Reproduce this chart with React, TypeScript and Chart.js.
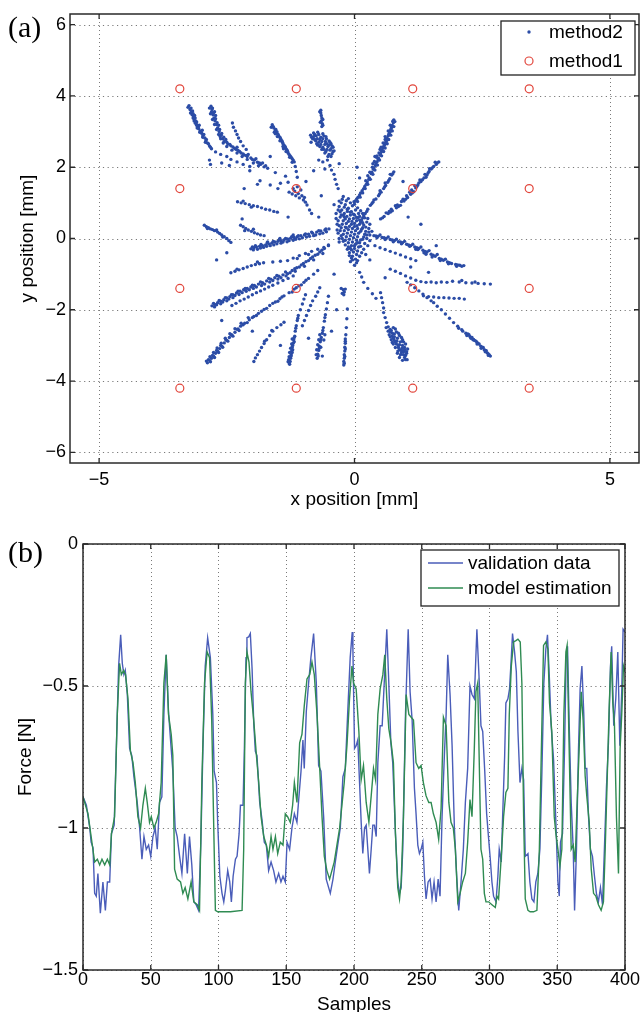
import React, { useEffect, useRef } from "react";
import { Chart, registerables } from "chart.js";

Chart.register(...registerables);

const FONT = "'Liberation Sans', Arial, Helvetica, sans-serif";
const SERIF = "'Liberation Serif', 'Times New Roman', serif";

// ---------------- chart (a) data ----------------
const xTicksA = [-5, 0, 5];
const yTicksA = [-6, -4, -2, 0, 2, 4, 6];

const method1Points = [
  [-3.42, 4.2], [-1.14, 4.2], [1.14, 4.2], [3.42, 4.2],
  [-3.42, 1.4], [-1.14, 1.4], [1.14, 1.4], [3.42, 1.4],
  [-3.42, -1.4], [-1.14, -1.4], [1.14, -1.4], [3.42, -1.4],
  [-3.42, -4.2], [-1.14, -4.2], [1.14, -4.2], [3.42, -4.2],
];

const raysUpperLeft = [
  [-3.24,3.73],[-3.22,3.62],[-3.19,3.55],[-3.18,3.47],[-3.15,3.42],[-3.14,3.35],[-3.11,3.30],[-3.10,3.22],[-3.07,3.15],[-3.05,3.08],[-3.02,3.02],[-2.99,2.95],[-2.97,2.88],[-2.93,2.82],[-2.91,2.74],[-2.88,2.68],[-2.84,2.60],[-2.80,2.52],[-2.72,2.43],[-2.62,2.36],[-2.50,2.30],[-2.42,2.22],[-2.30,2.15],[-2.18,2.08],[-2.05,2.02],[-2.84,2.20],[-2.82,2.08],[-2.60,2.12],[-3.16,3.50],[-3.12,3.38],[-3.06,3.12],[-3.00,2.99],
  [-2.81,3.71],[-2.79,3.62],[-2.80,3.55],[-2.77,3.47],[-2.75,3.38],[-2.73,3.30],[-2.70,3.20],[-2.68,3.10],[-2.65,3.00],[-2.61,2.90],[-2.58,2.80],[-2.55,2.72],[-2.48,2.65],[-2.42,2.60],[-2.35,2.53],[-2.28,2.47],[-2.22,2.40],[-2.16,2.34],[-2.10,2.30],[-2.03,2.26],[-1.96,2.20],[-1.90,2.14],[-1.84,2.08],[-1.77,2.01],[-1.70,1.97],[-2.72,3.45],[-2.66,3.18],[-2.52,2.78],[-2.30,2.56],[-2.08,2.36],[-1.93,2.24],[-1.80,2.12],
  [-2.39,3.24],[-2.37,3.12],[-2.33,3.02],[-2.30,2.92],[-2.27,2.82],[-2.23,2.72],[-2.18,2.60],[-2.12,2.50],
  [-1.61,3.19],[-1.58,3.10],[-1.55,3.03],[-1.52,2.96],[-1.49,2.90],[-1.46,2.84],[-1.44,2.78],[-1.41,2.70],[-1.38,2.62],[-1.35,2.55],[-1.32,2.47],[-1.30,2.40],[-1.26,2.32],[-1.22,2.24],[-1.18,2.15],[-1.16,2.02],[-1.14,1.88],[-1.12,1.72],[-1.52,3.00],[-1.42,2.74],[-1.33,2.50],[-1.24,2.28],
  [-1.28,1.30],[-1.22,1.25],[-1.17,1.33],[-1.15,1.20],[-1.10,1.26],[-1.08,1.14],[-1.03,1.20],[-1.00,1.08],[-0.96,1.02],[-0.93,0.94],[-1.20,1.40],[-1.12,1.45],[-1.05,1.36],[-0.98,1.15],[-0.88,0.80],[-0.84,0.70],
  [-1.90,1.52],[-1.65,1.50],[-1.45,1.55],[-1.30,1.58],[-2.05,1.90],[-1.55,1.85],[-1.35,1.75],[-2.16,1.40],
  [-0.66,3.60],[-0.66,3.52],[-0.65,3.45],[-0.64,3.38],[-0.65,3.30],[-0.63,3.22],[-0.64,3.14],
  [-0.86,2.90],[-0.80,2.96],[-0.75,2.88],[-0.70,2.92],[-0.66,2.84],[-0.60,2.88],[-0.55,2.80],[-0.50,2.74],[-0.46,2.66],[-0.42,2.56],[-0.40,2.46],[-0.82,2.80],[-0.76,2.74],[-0.70,2.70],[-0.64,2.72],[-0.58,2.64],[-0.52,2.58],[-0.48,2.48],[-0.44,2.38],[-0.72,2.62],[-0.62,2.56],[-0.56,2.44],[-0.50,2.36],[-0.85,2.70],
  [-0.53,2.20],[-0.48,2.05],[-0.45,1.92],[-0.40,1.80],[-0.38,1.66],[-0.35,1.52],[-0.32,1.40],[-0.62,2.15],[-0.58,1.95],
  [-2.29,1.03],[-2.22,1.00],[-2.14,0.98],[-2.06,0.95],[-1.98,0.92],[-1.90,0.90],[-1.82,0.86],[-1.74,0.82],[-1.66,0.80],[-1.58,0.76],[-1.51,0.74],[-2.18,1.05],[-2.02,0.88],
];

const raysLeft = [
  [-2.94,0.37],[-2.90,0.33],[-2.86,0.30],[-2.82,0.27],[-2.78,0.25],[-2.74,0.22],[-2.68,0.18],[-2.64,0.14],[-2.60,0.10],[-2.55,0.05],[-2.50,0.00],[-2.46,-0.06],[-2.42,-0.11],[-2.88,0.28],[-2.70,0.24],[-2.58,0.04],
  [-2.23,0.37],[-2.18,0.33],[-2.13,0.28],[-2.08,0.24],[-2.02,0.20],[-1.96,0.16],[-1.90,0.13],[-1.84,0.10],[-1.77,0.08],[-2.15,0.22],[-1.98,0.26],
  [-2.03,-0.29],[-1.97,-0.26],[-1.92,-0.24],[-1.86,-0.22],[-1.80,-0.20],[-1.74,-0.18],[-1.68,-0.15],[-1.62,-0.13],[-1.56,-0.10],[-1.50,-0.08],[-1.44,-0.06],[-1.38,-0.04],[-1.31,-0.01],[-1.25,0.01],[-1.18,0.03],[-1.12,0.05],[-1.05,0.08],[-0.98,0.10],[-0.90,0.12],[-0.82,0.15],[-0.74,0.18],[-0.66,0.21],[-0.58,0.24],[-0.50,0.27],[-1.90,-0.30],[-1.78,-0.25],[-1.65,-0.20],[-1.52,-0.15],[-1.40,-0.10],[-1.28,-0.06],[-1.15,-0.02],[-1.02,0.02],[-0.88,0.06],[-0.76,0.10],[-0.62,0.15],[-1.70,-0.10],[-1.46,0.00],[-1.20,0.10],
  [-2.42,-0.96],[-2.34,-0.92],[-2.26,-0.88],[-2.18,-0.84],[-2.10,-0.80],[-2.02,-0.76],[-1.94,-0.73],[-1.86,-0.71],[-1.78,-0.68],[-1.60,-0.66],[-1.45,-0.64],[-1.31,-0.62],[-1.20,-0.55],[-1.08,-0.48],[-0.96,-0.42],[-0.84,-0.36],[-0.72,-0.30],[-0.60,-0.25],[-0.51,-0.20],[-2.30,-0.86],[-1.90,-0.66],[-1.12,-0.56],[-0.90,-0.45],
];

const raysLowerLeft = [
  [-2.79,-1.89],[-2.74,-1.85],[-2.68,-1.80],[-2.62,-1.76],[-2.56,-1.72],[-2.50,-1.67],[-2.44,-1.63],[-2.38,-1.58],[-2.31,-1.53],[-2.24,-1.48],[-2.17,-1.44],[-2.10,-1.40],[-2.03,-1.36],[-1.96,-1.32],[-1.88,-1.28],[-1.80,-1.24],[-1.72,-1.19],[-1.64,-1.14],[-1.56,-1.10],[-1.48,-1.06],[-1.40,-1.02],[-1.31,-0.99],[-1.22,-0.90],[-1.13,-0.82],[-1.04,-0.74],[-0.95,-0.65],[-0.86,-0.56],[-0.77,-0.47],[-0.68,-0.38],[-0.59,-0.28],[-0.51,-0.18],[-2.70,-1.86],[-2.58,-1.78],[-2.46,-1.70],[-2.34,-1.60],[-2.20,-1.52],[-2.06,-1.44],[-1.92,-1.36],[-1.76,-1.28],[-1.60,-1.18],[-1.44,-1.10],[-1.26,-0.96],[-1.08,-0.80],[-0.90,-0.62],[-0.72,-0.44],
  [-2.40,-1.88],[-2.32,-1.82],[-2.24,-1.75],[-2.16,-1.70],[-2.08,-1.64],[-2.00,-1.58],[-1.92,-1.52],[-1.84,-1.47],[-1.76,-1.42],[-1.68,-1.36],[-1.60,-1.31],[-1.50,-1.25],[-1.40,-1.18],[-1.30,-1.12],[-1.20,-1.05],
  [-2.88,-3.49],[-2.84,-3.42],[-2.80,-3.36],[-2.76,-3.30],[-2.72,-3.22],[-2.68,-3.16],[-2.64,-3.09],[-2.60,-3.02],[-2.55,-2.93],[-2.50,-2.86],[-2.45,-2.78],[-2.40,-2.71],[-2.34,-2.63],[-2.28,-2.54],[-2.23,-2.46],[-2.15,-2.38],[-2.06,-2.28],[-1.97,-2.19],[-1.88,-2.10],[-1.77,-1.99],[-1.66,-1.88],[-1.55,-1.78],[-1.46,-1.69],[-1.38,-1.61],[-1.28,-1.52],[-1.18,-1.42],[-1.09,-1.33],[-0.99,-1.23],[-0.90,-1.12],[-0.80,-1.00],[-0.72,-0.90],[-2.82,-3.46],[-2.74,-3.34],[-2.66,-3.20],[-2.58,-3.05],[-2.48,-2.88],[-2.38,-2.74],[-2.26,-2.58],[-2.10,-2.36],[-1.92,-2.16],[-1.72,-1.96],[-1.50,-1.76],[-1.22,-1.50],[-1.04,-1.30],
  [-1.97,-3.45],[-1.94,-3.35],[-1.90,-3.26],[-1.86,-3.16],[-1.82,-3.06],[-1.77,-2.95],[-1.72,-2.84],[-1.66,-2.72],[-1.60,-2.60],[-1.52,-2.50],[-1.44,-2.42],[-1.38,-2.35],[-1.76,-2.88],[-1.62,-2.58],
  [-1.27,-3.53],[-1.26,-3.45],[-1.25,-3.36],[-1.24,-3.26],[-1.23,-3.16],[-1.22,-3.05],[-1.20,-2.94],[-1.19,-2.84],[-1.17,-2.74],[-1.16,-2.60],[-1.14,-2.45],[-1.12,-2.30],[-1.10,-2.16],[-1.06,-2.00],[-1.02,-1.84],[-0.99,-1.70],[-0.96,-1.58],[-1.29,-3.40],[-1.21,-3.12],[-1.18,-2.90],
  [-1.02,-2.45],[-0.98,-2.30],[-0.94,-2.16],[-0.90,-2.02],[-0.86,-1.88],[-0.82,-1.75],[-0.76,-1.62],[-0.72,-1.50],[-0.68,-1.38],
  [-0.73,-3.36],[-0.72,-3.25],[-0.70,-3.14],[-0.69,-3.02],[-0.67,-2.90],[-0.65,-2.78],[-0.63,-2.66],[-0.61,-2.50],[-0.59,-2.32],[-0.57,-2.14],[-0.55,-1.98],[-0.53,-1.80],[-0.51,-1.62],[-0.63,-3.30],[-0.66,-3.05],[-0.60,-2.85],[-0.58,-2.70],
  [-0.21,-3.55],[-0.21,-3.45],[-0.20,-3.36],[-0.20,-3.26],[-0.19,-3.16],[-0.19,-3.05],[-0.18,-2.94],[-0.18,-2.82],[-0.17,-2.70],[-0.16,-2.50],[-0.15,-2.25],[-0.14,-1.98],
  [-0.26,-1.40],[-0.22,-1.44],[-0.20,-1.50],[-0.24,-1.54],[-0.18,-1.42],[-0.21,-1.58],
];

const raysUpperRight = [
  [0.77,3.33],[0.76,3.25],[0.74,3.17],[0.72,3.10],[0.70,3.02],[0.68,2.95],[0.66,2.88],[0.64,2.81],[0.62,2.72],[0.59,2.63],[0.56,2.54],[0.53,2.44],[0.50,2.34],[0.47,2.25],[0.44,2.15],[0.41,2.05],[0.37,1.94],[0.33,1.82],[0.29,1.70],[0.25,1.59],[0.20,1.46],[0.15,1.34],[0.10,1.22],[0.05,1.12],[-0.01,1.03],[0.70,3.18],[0.66,3.02],[0.60,2.86],[0.56,2.68],[0.52,2.56],[0.48,2.40],[0.43,2.28],[0.39,2.16],[0.35,2.00],[0.30,1.86],[0.26,1.76],[0.22,1.62],[0.40,2.30],[0.36,2.10],
  [1.65,2.15],[1.60,2.08],[1.55,2.02],[1.50,1.95],[1.46,1.88],[1.42,1.78],[1.36,1.70],[1.30,1.60],[1.24,1.50],[1.20,1.42],[1.16,1.31],[1.10,1.24],[1.04,1.15],[0.97,1.05],[0.90,0.93],[0.82,0.86],[0.74,0.78],[0.66,0.70],[0.58,0.62],[0.51,0.55],[1.40,1.72],[1.26,1.56],[1.08,1.30],[0.95,1.10],[0.80,0.92],[0.68,0.76],
  [0.77,1.87],[0.73,1.78],[0.69,1.68],[0.65,1.58],[0.61,1.49],[0.57,1.40],[0.52,1.30],[0.47,1.20],[0.42,1.11],[0.36,1.02],[0.31,0.93],[0.26,0.82],[0.21,0.70],[0.16,0.58],[0.12,0.46],[0.70,1.80],[0.60,1.56],[0.50,1.34],[0.38,1.08],
];

const raysLowerRight = [
  [0.38,0.08],[0.46,0.06],[0.54,0.03],[0.62,0.00],[0.70,-0.03],[0.78,-0.06],[0.86,-0.09],[0.94,-0.12],[1.02,-0.16],[1.10,-0.20],[1.18,-0.24],[1.26,-0.28],[1.34,-0.33],[1.42,-0.38],[1.50,-0.44],[1.58,-0.50],[1.66,-0.56],[1.74,-0.61],[1.82,-0.66],[1.90,-0.70],[1.98,-0.73],[2.06,-0.75],[2.14,-0.76],[0.50,0.10],[0.66,0.04],[0.82,-0.02],[0.98,-0.08],[1.14,-0.16],[1.30,-0.24],[1.46,-0.34],[1.62,-0.45],[1.78,-0.58],[1.20,-0.30],[1.40,-0.44],
  [0.40,-0.20],[0.50,-0.26],[0.60,-0.31],[0.70,-0.36],[0.80,-0.41],[0.90,-0.46],[1.00,-0.52],[1.10,-0.57],[1.20,-0.62],
  [0.70,-0.86],[0.80,-0.92],[0.90,-0.98],[1.00,-1.05],[1.10,-1.11],[1.20,-1.17],[1.30,-1.21],[1.40,-1.23],[1.50,-1.22],[1.60,-1.24],[1.70,-1.22],[1.81,-1.23],[1.92,-1.20],[2.05,-1.22],[2.18,-1.24],[2.30,-1.25],[2.42,-1.26],[2.54,-1.27],[2.66,-1.28],[2.10,-1.18],[2.36,-1.22],
  [1.35,-1.61],[1.45,-1.63],[1.55,-1.64],[1.65,-1.66],[1.75,-1.66],[1.85,-1.67],[1.95,-1.68],[2.05,-1.68],[2.15,-1.70],
  [1.03,-1.23],[1.10,-1.30],[1.18,-1.38],[1.26,-1.47],[1.34,-1.56],[1.42,-1.66],[1.50,-1.75],[1.55,-1.80],[1.62,-1.90],[1.70,-2.00],[1.78,-2.12],[1.86,-2.24],[1.94,-2.36],[2.02,-2.46],[2.10,-2.56],[2.18,-2.66],[2.26,-2.75],[2.33,-2.83],[2.40,-2.92],[2.47,-3.02],[2.54,-3.12],[2.60,-3.21],[2.66,-3.30],[2.22,-2.68],[2.30,-2.78],[2.38,-2.88],[2.44,-2.96],[2.52,-3.06],[2.58,-3.15],
  [0.51,-1.52],[0.53,-1.66],[0.55,-1.80],[0.57,-1.95],[0.57,-2.08],[0.60,-2.22],[0.63,-2.36],[0.66,-2.48],[0.70,-2.55],[0.74,-2.66],[0.78,-2.76],[0.83,-2.88],[0.88,-2.98],[0.93,-3.08],[0.96,-3.18],[1.00,-3.28],[1.03,-3.40],[0.68,-2.70],[0.72,-2.84],[0.76,-2.96],[0.80,-3.06],[0.85,-3.16],[0.90,-3.26],[0.82,-2.62],[0.88,-2.72],[0.94,-2.84],[1.00,-2.96],[1.04,-3.10],[0.76,-2.50],[0.62,-2.50],[0.66,-2.60],
  [0.18,-1.23],[0.26,-1.40],[0.35,-1.55],[0.42,-1.68],[0.10,-0.95],[0.14,-1.08],
];

const centerCluster = [
  [-0.30,0.90],[-0.25,0.80],[-0.20,0.70],[-0.15,0.62],[-0.10,0.55],[-0.05,0.48],[0.00,0.42],[0.05,0.36],[-0.28,0.60],[-0.22,0.50],[-0.16,0.42],[-0.10,0.34],[-0.04,0.28],[0.02,0.22],[0.08,0.15],[-0.26,0.30],[-0.20,0.22],[-0.14,0.15],[-0.08,0.08],[-0.02,0.02],[0.04,-0.05],[0.10,-0.12],[-0.18,-0.05],[-0.12,-0.12],[-0.06,-0.20],[0.00,-0.28],[0.06,-0.35],[-0.10,-0.40],[-0.04,-0.50],[0.02,-0.58],[-0.08,-0.65],[0.00,-0.75],[-0.32,0.15],[-0.34,0.40],[-0.30,1.05],[-0.24,1.10],[-0.18,0.95],[-0.12,0.85],[-0.06,0.75],[0.00,0.66],[0.06,0.58],[0.12,0.50],[0.18,0.38],[0.14,0.26],[0.20,0.12],[0.24,0.00],[0.16,-0.02],[0.12,-0.22],[0.18,-0.30],[0.22,-0.45],[0.10,-0.50],[0.06,-0.62],[-0.16,0.30],[-0.24,0.00],[-0.30,-0.10],[-0.04,0.92],[0.02,0.80],[0.08,0.70],[-0.36,0.70],[-0.40,0.95],[0.28,0.28],[0.30,0.10],[-0.14,-0.30],[0.26,-0.20],
  [-0.32,0.50],[-0.30,0.36],[-0.28,0.22],[-0.26,0.08],[-0.22,-0.08],[-0.18,-0.18],[-0.12,-0.24],[-0.06,-0.32],[0.00,-0.20],[0.06,-0.12],[0.12,-0.04],[0.18,0.04],[0.24,0.10],[0.28,0.18],[0.22,0.32],[0.16,0.44],[0.10,0.52],[0.04,0.60],[-0.02,0.68],[-0.08,0.74],[-0.14,0.82],[-0.20,0.60],[-0.26,0.66],[-0.32,0.80],[-0.36,0.56],[-0.34,0.24],[-0.30,0.00],[-0.04,-0.60],[0.04,-0.68],[-0.10,-0.48],[0.14,-0.40],[0.20,-0.14],[0.30,-0.06],[0.34,0.20],[0.30,0.40],[0.26,0.56],[0.18,0.64],[0.12,0.78],[0.06,0.86],[0.00,0.96],[-0.08,1.00],[-0.16,1.06],[-0.22,1.18],[-0.12,1.12],
];

const strayPoints = [
  [-1.85,1.62],[-1.50,1.40],[-0.95,1.60],[-0.80,1.90],[-0.70,2.20],[-0.30,2.10],[0.05,2.00],[0.10,1.70],[0.95,1.60],[1.05,0.60],[1.30,0.40],[1.60,-0.20],[1.10,-0.80],[1.45,-0.95],[0.60,-1.10],[0.30,-0.60],[-0.40,-1.00],[-0.35,-2.00],[-0.45,-2.60],[-0.90,-2.80],[-1.45,-3.00],[-2.00,-2.60],[-2.60,-2.30],[-2.70,-0.60],[-2.50,-0.40],[-2.20,0.55],[-1.30,0.60],[-0.70,0.60],[-0.65,1.20],[-1.65,2.30],[-2.45,2.05],
];

const denseFill = [
  [-3.20,3.66],[-3.17,3.58],[-3.13,3.45],[-3.09,3.27],[-3.04,3.18],[-2.98,3.04],[-2.95,2.92],[-2.90,2.78],[-2.86,2.66],[-2.82,2.56],
  [-3.26,3.68],[-3.21,3.52],[-3.16,3.38],[-3.12,3.24],[-3.08,3.10],[-3.03,2.98],[-2.97,2.84],[-2.92,2.70],[-3.14,3.30],[-3.09,3.18],
  [-2.78,3.66],[-2.76,3.52],[-2.72,3.36],[-2.69,3.25],[-2.64,3.06],[-2.60,2.95],[-2.56,2.84],[-2.50,2.70],[-2.44,2.64],[-2.38,2.57],[-2.32,2.50],[-2.25,2.44],[-2.18,2.37],[-2.12,2.33],[-2.00,2.22],[-1.86,2.12],[-1.74,2.04],
  [-2.84,3.66],[-2.82,3.50],[-2.78,3.34],[-2.74,3.20],[-2.70,3.06],[-2.66,2.92],[-2.62,2.80],[-2.57,2.68],[-2.50,2.58],[-2.40,2.48],[-2.30,2.40],[-2.20,2.30],[-2.10,2.22],[-1.98,2.12],[-1.88,2.04],[-2.74,3.56],[-2.63,2.86],
  [-1.59,3.14],[-1.54,3.06],[-1.50,2.93],[-1.45,2.80],[-1.40,2.66],[-1.36,2.58],[-1.31,2.44],[-1.28,2.36],[-1.20,2.20],
  [-1.63,3.12],[-1.57,2.98],[-1.51,2.86],[-1.46,2.74],[-1.40,2.58],[-1.34,2.44],[-1.27,2.28],[-1.22,2.14],[-1.55,2.94],[-1.39,2.52],
  [-0.78,2.92],[-0.73,2.80],[-0.68,2.78],[-0.62,2.80],[-0.57,2.72],[-0.54,2.66],[-0.50,2.62],[-0.46,2.52],[-0.80,2.86],[-0.66,2.64],[-0.60,2.50],[-0.54,2.50],
  [-0.68,3.56],[-0.62,3.34],[-0.67,3.26],[-0.62,3.18],[-0.84,2.84],[-0.78,2.78],[-0.74,2.66],[-0.68,2.58],[-0.64,2.50],[-0.58,2.40],[-0.52,2.30],[-0.46,2.30],[-0.42,2.44],[-0.44,2.60],[-0.48,2.70],[-0.56,2.86],[-0.62,2.94],[-0.72,2.98],
  [-2.00,-0.24],[-1.94,-0.20],[-1.83,-0.17],[-1.71,-0.12],[-1.59,-0.08],[-1.47,-0.03],[-1.35,0.00],[-1.23,0.05],[-1.10,0.08],[-0.96,0.13],[-0.84,0.18],[-0.70,0.22],[-0.56,0.27],
  [-1.98,-0.32],[-1.84,-0.27],[-1.72,-0.22],[-1.58,-0.18],[-1.44,-0.13],[-1.32,-0.09],[-1.20,-0.05],[-1.08,-0.01],[-0.94,0.04],[-0.80,0.08],[-0.68,0.13],[-0.55,0.19],
  [-2.76,-1.82],[-2.65,-1.74],[-2.53,-1.66],[-2.41,-1.58],[-2.28,-1.48],[-2.14,-1.40],[-2.00,-1.31],[-1.84,-1.22],[-1.68,-1.12],[-1.52,-1.04],[-1.35,-0.94],[-1.17,-0.85],[-1.00,-0.70],[-0.82,-0.52],[-0.64,-0.33],
  [-2.74,-1.92],[-2.62,-1.83],[-2.50,-1.75],[-2.38,-1.66],[-2.26,-1.57],[-2.12,-1.48],[-1.98,-1.40],[-1.82,-1.32],[-1.66,-1.22],[-1.50,-1.14],[-1.34,-1.05],[-1.16,-0.92],[-0.98,-0.78],[-0.80,-0.60],[-0.62,-0.42],
  [-2.86,-3.40],[-2.78,-3.28],[-2.70,-3.14],[-2.62,-3.00],[-2.52,-2.84],[-2.42,-2.70],[-2.30,-2.55],[-2.18,-2.42],[-2.00,-2.22],[-1.82,-2.04],[-1.60,-1.82],[-1.42,-1.64],[-1.14,-1.38],[-0.95,-1.17],
  [-2.90,-3.44],[-2.83,-3.32],[-2.76,-3.20],[-2.69,-3.07],[-2.61,-2.94],[-2.53,-2.80],[-2.44,-2.67],[-2.34,-2.53],[-2.22,-2.38],[-2.08,-2.22],
  [-1.28,-3.48],[-1.24,-3.30],[-1.22,-3.20],[-1.21,-3.00],[-1.18,-2.78],[-1.15,-2.52],[-1.11,-2.24],
  [-1.30,-3.46],[-1.28,-3.32],[-1.27,-3.20],[-1.25,-3.08],[-1.23,-2.96],[-1.22,-2.82],
  [-0.71,-3.30],[-0.69,-3.08],[-0.66,-2.84],[-0.62,-2.58],[-0.58,-2.22],
  [-0.75,-3.26],[-0.74,-3.12],[-0.72,-2.98],[-0.70,-2.84],[-0.68,-2.70],
  [-0.20,-3.50],[-0.19,-3.31],[-0.18,-3.10],[-0.18,-2.88],
  [0.75,3.29],[0.73,3.13],[0.71,3.06],[0.69,2.98],[0.67,2.91],[0.63,2.76],[0.60,2.68],[0.57,2.58],[0.54,2.48],[0.51,2.38],[0.46,2.20],[0.42,2.10],[0.38,1.98],[0.34,1.86],[0.28,1.66],[0.23,1.52],[0.18,1.40],[0.12,1.28],[0.07,1.16],[0.02,1.06],
  [0.79,3.28],[0.77,3.14],[0.74,3.02],[0.71,2.90],[0.67,2.78],[0.64,2.66],[0.60,2.54],[0.57,2.44],[0.53,2.32],[0.49,2.20],[0.45,2.06],[0.40,1.92],[0.36,1.80],[0.31,1.66],[0.26,1.52],[0.21,1.40],[0.16,1.28],[0.11,1.16],[0.06,1.04],[0.60,2.78],[0.50,2.50],[0.44,2.32],
  [1.62,2.12],[1.52,1.98],[1.44,1.84],[1.33,1.65],[1.22,1.46],[1.13,1.28],[1.00,1.10],[0.86,0.90],[0.70,0.74],[0.55,0.58],
  [1.58,2.14],[1.47,1.96],[1.38,1.80],[1.28,1.64],[1.18,1.48],[1.12,1.36],[1.02,1.20],[0.92,1.04],[0.84,0.94],[0.72,0.82],[0.62,0.72],
  [0.75,1.82],[0.67,1.63],[0.59,1.45],[0.49,1.25],[0.34,0.98],[0.24,0.76],[0.14,0.52],
  [0.42,0.07],[0.58,0.02],[0.74,-0.04],[0.90,-0.10],[1.06,-0.18],[1.22,-0.26],[1.38,-0.36],[1.54,-0.47],[1.70,-0.58],[1.86,-0.68],[2.02,-0.74],[2.10,-0.78],
  [0.44,0.02],[0.60,-0.03],[0.76,-0.09],[0.92,-0.15],[1.08,-0.22],[1.24,-0.31],[1.36,-0.40],[1.52,-0.52],[1.68,-0.62],[1.84,-0.71],[2.00,-0.78],
  [2.20,-2.72],[2.28,-2.80],[2.35,-2.86],[2.42,-2.95],[2.49,-3.04],[2.56,-3.14],[2.62,-3.24],[2.64,-3.27],
  [2.24,-2.70],[2.32,-2.84],[2.40,-2.96],[2.48,-3.08],[2.56,-3.18],[2.62,-3.28],[2.12,-2.60],[2.04,-2.52],
  [0.70,-2.62],[0.74,-2.74],[0.78,-2.86],[0.82,-2.96],[0.86,-3.06],[0.88,-3.12],[0.92,-3.20],[0.98,-3.34],[0.96,-2.90],[0.92,-2.78],[0.86,-2.66],[0.80,-2.54],[0.98,-3.06],[1.02,-3.18],
  [0.72,-2.58],[0.78,-2.68],[0.84,-2.80],[0.90,-2.90],[0.94,-3.00],[0.98,-3.12],[1.02,-3.22],[0.96,-3.26],[0.92,-3.14],[0.86,-3.00],[0.80,-2.90],[0.76,-2.80],[0.70,-2.76],[0.74,-2.92],[0.84,-3.22],[0.88,-3.34],[0.94,-3.42],[1.00,-3.40],
  [-0.28,0.75],[-0.22,0.65],[-0.18,0.55],[-0.12,0.48],[-0.06,0.40],[0.00,0.34],[0.06,0.28],[0.12,0.20],[-0.24,0.40],[-0.18,0.32],[-0.12,0.25],[-0.06,0.18],[0.00,0.12],[0.06,0.05],[-0.22,0.12],[-0.16,0.05],[-0.10,-0.02],[-0.04,-0.10],[0.02,-0.16],[0.08,-0.24],[-0.08,-0.28],[-0.02,-0.38],[0.04,-0.45],[-0.06,-0.55],[0.10,0.40],[0.16,0.30],[0.22,0.20],[-0.26,1.00],[-0.20,0.88],[-0.14,0.76],[-0.08,0.66],[-0.02,0.56],[0.04,0.50],[0.10,0.62],[0.16,0.70],[0.20,0.58],[0.24,0.46],
];

const method2Points = [
  ...raysUpperLeft, ...raysLeft, ...raysLowerLeft,
  ...raysUpperRight, ...raysLowerRight, ...centerCluster, ...strayPoints, ...denseFill,
];

// ---------------- chart (b) data ----------------
const xTicksB = [0, 50, 100, 150, 200, 250, 300, 350, 400];
const yTicksB = [-1.5, -1, -0.5, 0];

const validationData = [
  [0,-0.89],[2.5,-0.92],[5,-1.0],[6,-1.05],[7.4,-1.07],[8.6,-1.23],[9.8,-1.24],[11,-1.16],[12.8,-1.3],[14.7,-1.19],[16.5,-1.29],[18,-1.19],[19.7,-1.19],[21,-1.02],[23,-0.99],[24.6,-0.72],[26.3,-0.43],[27.8,-0.32],[29,-0.42],[30.2,-0.46],[31.2,-0.445],[32.7,-0.53],[34.4,-0.72],[36,-0.745],[37.6,-0.82],[40,-0.91],[41.8,-1.0],[43.5,-1.11],[45,-1.03],[46.7,-1.075],[48.4,-1.06],[50,-1.1],[51.6,-1.03],[53.3,-1.0],[54.8,-1.075],[56.5,-0.91],[58.2,-0.89],[59.7,-0.6],[61.4,-0.39],[63.1,-0.59],[64.6,-0.69],[66.3,-0.8],[68,-1.0],[69.5,-1.03],[71.3,-1.1],[73,-1.16],[75,-1.02],[77,-1.16],[78.6,-1.03],[80.3,-1.13],[81.8,-1.26],[83.5,-1.27],[85.3,-1.29],[87,-1.05],[88.5,-0.72],[90.2,-0.43],[92,-0.33],[94,-0.4],[95.8,-0.6],[96.8,-0.8],[98.5,-0.84],[99.4,-0.98],
  [101,-1.17],[102.6,-1.23],[103.9,-1.26],[105.1,-1.22],[106.8,-1.15],[108.3,-1.19],[109.5,-1.26],[110.8,-1.17],[112.5,-1.11],[113.7,-1.1],[115.2,-1.02],[116.2,-0.92],[118.1,-0.92],[119.1,-0.72],[120.3,-0.4],[121,-0.33],[122.3,-0.327],[123.5,-0.315],[124.8,-0.44],[126,-0.63],[127.2,-0.73],[128.4,-0.745],[130.4,-0.91],[132.1,-0.97],[133.8,-1.05],[135.3,-1.06],[137,-1.15],[138.8,-1.12],[140.7,-1.15],[142.4,-1.19],[144.4,-1.16],[146.1,-1.19],[147.6,-1.17],[149.3,-1.19],[150.6,-1.05],[152.5,-1.075],[154.2,-1.0],[156,-0.95],[157.9,-0.98],[159.2,-0.9],[160.9,-0.8],[162.3,-0.69],[163.3,-0.79],[164.8,-0.59],[166.5,-0.49],[168.2,-0.4],[170.2,-0.315],[172.2,-0.49],[173.9,-0.78],[175.6,-0.8],[177.6,-0.96],[179.5,-1.18],[181.3,-1.21],[182.5,-1.23],[184.5,-1.18],[186.2,-1.12],[188,-1.06],[189.9,-1.0],[191.8,-0.82],[193.6,-0.79],[195.3,-0.6],[197.2,-0.4],[198.7,-0.31],[199.2,-0.37],
  [200.4,-0.72],[201.6,-0.71],[202.8,-0.69],[204.1,-0.84],[205.3,-0.98],[206.5,-1.09],[207.8,-1.0],[209,-0.99],[210.2,-1.075],[211.4,-1.16],[212.7,-1.075],[213.9,-0.99],[215.1,-0.99],[216.4,-1.03],[217.6,-0.77],[219.3,-0.64],[220.8,-0.64],[222.3,-0.49],[224.2,-0.3],[225.7,-0.49],[227.2,-0.7],[228.6,-0.77],[230.6,-1.02],[232.3,-1.19],[233.6,-1.23],[234.8,-1.21],[236,-1.075],[238,-0.6],[240,-0.3],[241.4,-0.52],[242.9,-0.62],[244.6,-0.86],[245.8,-0.95],[247.1,-1.06],[248.3,-1.09],[249.5,-1.075],[250.8,-1.05],[252,-1.17],[253.2,-1.25],[254.7,-1.19],[256.2,-1.18],[257.6,-1.25],[259.1,-1.19],[260.6,-1.26],[262.1,-1.18],[263.5,-1.24],[265,-0.96],[266.7,-0.745],[268,-0.6],[269.2,-0.39],[270.9,-0.53],[272.4,-0.71],[274.1,-1.0],[275.8,-1.17],[277.3,-1.29],[279,-1.19],[280.7,-1.075],[282.2,-0.91],[283.9,-0.79],[285.6,-0.5],[287.1,-0.53],[288.8,-0.545],[290.7,-0.3],[292.5,-0.49],[293.7,-0.64],[295,-0.66],[296.5,-0.8],[297.9,-0.95],[299.4,-1.04],
  [300.6,-1.11],[301.8,-1.19],[303,-1.24],[304.8,-1.26],[306.2,-1.17],[307.2,-1.075],[308.7,-1.12],[309.7,-0.96],[311.2,-0.745],[312.1,-0.56],[313.6,-0.545],[314.8,-0.51],[316.1,-0.4],[317,-0.315],[318.5,-0.38],[319.8,-0.45],[321,-0.66],[322.5,-0.84],[323.9,-0.79],[325.2,-0.83],[326.4,-1.1],[328.4,-1.09],[329.8,-1.19],[331.3,-1.25],[332.8,-1.26],[334.2,-1.19],[335.7,-1.16],[337.2,-1.075],[338.7,-0.8],[340.1,-0.49],[341.6,-0.37],[342.8,-0.32],[344.1,-0.46],[345.5,-0.64],[347.3,-0.76],[349,-0.98],[350.5,-1.19],[351.5,-1.24],[352.4,-1.05],[353.9,-1.02],[355.4,-0.72],[356.6,-0.4],[357.6,-0.36],[358.8,-0.63],[360.3,-0.91],[361.8,-1.075],[362.8,-1.29],[364.2,-1.075],[365.7,-0.72],[366.9,-0.51],[368.2,-0.43],[369.6,-0.6],[370.6,-0.79],[371.8,-0.79],[373.1,-0.96],[374.5,-1.075],[376,-1.1],[377.5,-1.17],[378.9,-1.23],[380.4,-1.26],[381.9,-1.21],[383.4,-1.27],[384.8,-1.075],[386.3,-0.86],[387.8,-0.7],[389.3,-0.43],[390.2,-0.36],[391.7,-0.64],[393.2,-0.545],[394.7,-0.38],[396.2,-0.71],[397.6,-0.52],[398.6,-0.3],[400,-0.31],
];

const estimationData = [
  [0,-0.89],[3.7,-0.95],[6,-1.03],[8.6,-1.12],[10.6,-1.11],[12.3,-1.13],[14,-1.11],[16,-1.13],[18,-1.11],[19.7,-1.13],[21,-1.02],[23.3,-0.96],[25.3,-0.6],[27,-0.42],[28.3,-0.46],[30,-0.445],[31.4,-0.46],[33.2,-0.545],[35,-0.73],[36.9,-0.77],[38.6,-0.84],[40.5,-0.96],[42.5,-1.0],[44.2,-0.92],[46,-0.86],[47.4,-0.91],[49.1,-0.98],[50.4,-0.96],[52.3,-1.0],[54,-0.98],[55.8,-0.95],[57.7,-0.84],[59.7,-0.49],[61.4,-0.39],[63.1,-0.6],[65.1,-0.67],[66.3,-0.745],[67.6,-1.145],[69.5,-1.18],[72,-1.19],[73.7,-1.23],[75.4,-1.21],[77.4,-1.25],[79.8,-1.19],[81.8,-1.26],[84.3,-1.27],[86,-1.29],[87.7,-0.84],[89.7,-0.49],[91.6,-0.38],[93.4,-0.4],[95,-0.62],[96.5,-1.0],[97.7,-1.29],[99.4,-1.295],
  [108.8,-1.295],[117.4,-1.29],[118.6,-1.075],[119.8,-0.49],[121,-0.38],[122.5,-0.416],[124,-0.52],[126,-0.62],[128,-0.745],[129.7,-0.84],[131.4,-0.96],[133.4,-1.03],[135.3,-1.06],[137,-1.1],[138.8,-1.03],[140.2,-1.075],[142,-1.03],[143.7,-1.09],[145.6,-1.05],[147.6,-1.06],[149.3,-0.95],[151,-0.96],[153,-0.98],[154.7,-0.92],[156,-0.84],[157.9,-0.91],[159.9,-0.7],[161.6,-0.67],[163.3,-0.57],[165.3,-0.475],[167.3,-0.46],[169,-0.416],[170.7,-0.46],[172.7,-0.6],[174.6,-0.78],[176.4,-0.96],[178.1,-1.1],[180,-1.15],[182,-1.18],[183.7,-1.15],[185.4,-1.12],[187.4,-1.06],[189.4,-1.0],[191.1,-0.92],[192.8,-0.84],[194.8,-0.71],[196.7,-0.545],[198.5,-0.43],[199.7,-0.49],
  [201.6,-0.51],[203.6,-0.66],[205.3,-0.83],[207,-0.78],[209,-0.91],[211,-0.98],[212.7,-0.887],[214.4,-0.79],[215.9,-0.83],[217.6,-0.6],[219.3,-0.51],[221.3,-0.46],[222.7,-0.39],[224.2,-0.545],[225.7,-0.65],[227.4,-0.7],[229.1,-0.77],[230.6,-1.02],[232.3,-1.21],[233.6,-1.25],[234.8,-1.19],[236.5,-0.96],[238.5,-0.53],[240.5,-0.6],[242.2,-0.61],[243.9,-0.62],[245.8,-0.77],[247.8,-0.79],[249.5,-0.78],[251.2,-0.84],[253.2,-0.887],[255.2,-0.91],[256.9,-0.91],[258.6,-0.95],[260.6,-0.98],[262.5,-1.04],[264.3,-0.93],[266,-0.61],[268,-0.64],[270,-0.91],[271.6,-0.98],[273.3,-1.0],[274.8,-1.075],[276.6,-1.26],[278.3,-1.23],[280.2,-1.19],[282.2,-1.16],[283.9,-1.05],[285.6,-0.9],[287.1,-0.96],[288.8,-0.72],[290,-0.52],[291.3,-0.49],[292.5,-0.78],[293.7,-1.075],[295,-1.11],[296.2,-1.23],[297.4,-1.26],[299.4,-1.26],
  [301.8,-1.27],[304.3,-1.28],[305.5,-1.24],[306.7,-1.25],[308.7,-1.1],[310.4,-0.96],[312.1,-0.875],[313.6,-0.86],[314.6,-0.6],[316.1,-0.43],[317.8,-0.345],[319.5,-0.34],[321,-0.335],[322.7,-0.345],[323.9,-0.49],[325.2,-0.96],[326.4,-1.25],[328.4,-1.29],[330,-1.295],[332.5,-1.295],[335,-1.29],[336.8,-1.075],[338.3,-0.72],[339.9,-0.357],[341.6,-0.345],[343.1,-0.37],[344.3,-0.56],[346,-0.66],[347.8,-0.96],[349,-1.02],[350.5,-1.075],[352,-1.134],[353.4,-1.075],[354.9,-0.6],[356.4,-0.38],[357.3,-0.357],[358.8,-0.72],[360.3,-1.075],[361.8,-1.06],[363.2,-1.12],[364.7,-0.91],[366.2,-0.72],[367.7,-0.52],[369.1,-0.62],[370.6,-0.816],[371.8,-0.887],[373.6,-0.98],[375.1,-1.145],[376.8,-1.23],[378.5,-1.24],[380.4,-1.27],[382.4,-1.29],[384.1,-1.26],[385.4,-1.075],[386.8,-0.84],[388.3,-0.58],[389.8,-0.38],[391,-0.56],[392.2,-0.63],[393.7,-0.96],[395.2,-1.16],[396.4,-0.72],[397.6,-0.6],[398.9,-0.43],[400,-0.45],
];

// ---------------- helpers ----------------
const toXY = (arr: number[][]) => arr.map(([x, y]) => ({ x, y }));
const minus = (v: any) => String(v).replace("-", "\u2212");

function makeDecor(legend: any) {
  return {
    id: "matlabDecor",
    beforeDatasetsDraw(chart: any) {
      const { ctx, chartArea: a, scales } = chart;
      const xs = scales.x, ys = scales.y;
      ctx.save();
      ctx.strokeStyle = "#7a7a7a";
      ctx.lineWidth = 1;
      ctx.setLineDash([1, 3]);
      xs.ticks.forEach((t: any) => {
        const px = Math.round(xs.getPixelForValue(t.value)) + 0.5;
        ctx.beginPath(); ctx.moveTo(px, a.top); ctx.lineTo(px, a.bottom); ctx.stroke();
      });
      ctx.setLineDash([1.2, 3.5]);
      ys.ticks.forEach((t: any) => {
        const py = Math.round(ys.getPixelForValue(t.value)) + 0.5;
        ctx.beginPath(); ctx.moveTo(a.left, py); ctx.lineTo(a.right, py); ctx.stroke();
      });
      ctx.restore();
    },
    afterDatasetsDraw(chart: any) {
      const { ctx, chartArea: a, scales } = chart;
      const xs = scales.x, ys = scales.y;
      const TL = 5;
      ctx.save();
      ctx.setLineDash([]);
      ctx.strokeStyle = "#2a2a2a";
      ctx.lineWidth = 1.3;
      xs.ticks.forEach((t: any) => {
        const px = xs.getPixelForValue(t.value);
        ctx.beginPath();
        ctx.moveTo(px, a.bottom); ctx.lineTo(px, a.bottom - TL);
        ctx.moveTo(px, a.top); ctx.lineTo(px, a.top + TL);
        ctx.stroke();
      });
      ys.ticks.forEach((t: any) => {
        const py = ys.getPixelForValue(t.value);
        ctx.beginPath();
        ctx.moveTo(a.left, py); ctx.lineTo(a.left + TL, py);
        ctx.moveTo(a.right, py); ctx.lineTo(a.right - TL, py);
        ctx.stroke();
      });
      ctx.lineWidth = 1.5;
      ctx.strokeRect(a.left, a.top, a.right - a.left, a.bottom - a.top);

      // legend box
      ctx.fillStyle = "#ffffff";
      ctx.fillRect(legend.left, legend.top, legend.width, legend.height);
      ctx.lineWidth = 1.3;
      ctx.strokeStyle = "#222";
      ctx.strokeRect(legend.left, legend.top, legend.width, legend.height);
      ctx.font = `${legend.fontSize}px ${FONT}`;
      ctx.textBaseline = "middle";
      ctx.textAlign = "left";
      legend.order.forEach((dsIndex: number, i: number) => {
        const ds = chart.data.datasets[dsIndex];
        const y = legend.rows[i];
        if (legend.kind === "line") {
          ctx.strokeStyle = ds.borderColor;
          ctx.lineWidth = ds.borderWidth;
          ctx.beginPath();
          ctx.moveTo(legend.sampleX1, y); ctx.lineTo(legend.sampleX2, y);
          ctx.stroke();
        } else {
          ctx.beginPath();
          ctx.arc(legend.markerX, y, ds.pointRadius, 0, Math.PI * 2);
          if (ds.pointBorderWidth > 0) {
            ctx.strokeStyle = ds.pointBorderColor;
            ctx.lineWidth = ds.pointBorderWidth;
            ctx.stroke();
          } else {
            ctx.fillStyle = ds.pointBackgroundColor;
            ctx.fill();
          }
        }
        ctx.fillStyle = "#000";
        ctx.fillText(ds.label, legend.textX, y + 1);
      });
      ctx.restore();
    },
  };
}

function axis(opts: any) {
  const { min, max, ticks, title, fit, horizontal, tickPad, titlePad } = opts;
  return {
    type: "linear",
    position: horizontal ? "bottom" : "left",
    min, max,
    afterBuildTicks: (s: any) => { s.ticks = ticks.map((v: number) => ({ value: v })); },
    afterFit: (s: any) => { if (horizontal) s.height = fit; else s.width = fit; },
    grid: { display: false, drawTicks: false },
    border: { display: false },
    ticks: {
      autoSkip: false, maxRotation: 0, minRotation: 0, padding: tickPad, color: "#000",
      font: { family: FONT, size: 18, lineHeight: 1 },
      callback: (v: any) => minus(v),
    },
    title: {
      display: true, text: title, color: "#000",
      font: { family: FONT, size: 19, lineHeight: 1 },
      padding: titlePad,
    },
  };
}

function configA() {
  return {
    type: "scatter",
    data: {
      datasets: [
        {
          label: "method2", data: toXY(method2Points), order: 1,
          pointRadius: 1.7, pointBackgroundColor: "#2B4CA6", pointBorderWidth: 0,
          backgroundColor: "#2B4CA6", borderWidth: 0, showLine: false,
        },
        {
          label: "method1", data: toXY(method1Points), order: 0,
          pointRadius: 4, pointBackgroundColor: "rgba(0,0,0,0)", pointBorderColor: "#E2463C",
          pointBorderWidth: 1.2, showLine: false,
        },
      ],
    },
    options: {
      responsive: false, animation: false, devicePixelRatio: 1, events: [],
      layout: { autoPadding: false, padding: { top: 14, right: 2, left: 0, bottom: 0 } },
      plugins: { legend: { display: false }, tooltip: { enabled: false } },
      scales: {
        x: axis({ min: -5.57, max: 5.57, ticks: xTicksA, title: "x position [mm]", fit: 52, horizontal: true, tickPad: 8, titlePad: { top: 0, bottom: 6 } }),
        y: axis({ min: -6.3, max: 6.3, ticks: yTicksA, title: "y position [mm]", fit: 70, horizontal: false, tickPad: 4, titlePad: { top: 18.5, bottom: 0 } }),
      },
    },
    plugins: [makeDecor({
      kind: "point", left: 501, top: 21, width: 134, height: 54,
      rows: [32, 61], markerX: 529, textX: 549, fontSize: 19, order: [0, 1],
    })],
  };
}

function configB() {
  return {
    type: "line",
    data: {
      datasets: [
        {
          label: "validation data", data: toXY(validationData), order: 1,
          borderColor: "#4A5DB9", borderWidth: 1.4, pointRadius: 0, tension: 0, fill: false,
        },
        {
          label: "model estimation", data: toXY(estimationData), order: 0,
          borderColor: "#2F8B52", borderWidth: 1.4, pointRadius: 0, tension: 0, fill: false,
        },
      ],
    },
    options: {
      responsive: false, animation: false, devicePixelRatio: 1, events: [],
      layout: { autoPadding: false, padding: { top: 29, right: 15, left: 0, bottom: 0 } },
      plugins: { legend: { display: false }, tooltip: { enabled: false } },
      scales: {
        x: axis({ min: 0, max: 400, ticks: xTicksB, title: "Samples", fit: 50, horizontal: true, tickPad: 1, titlePad: { top: 0, bottom: 6 } }),
        y: axis({ min: -1.5, max: 0, ticks: yTicksB, title: "Force [N]", fit: 83, horizontal: false, tickPad: 5, titlePad: { top: 16.5, bottom: 0 } }),
      },
    },
    plugins: [makeDecor({
      kind: "line", left: 421, top: 35, width: 198, height: 56,
      rows: [48, 73], sampleX1: 428, sampleX2: 463, textX: 468, fontSize: 19, order: [0, 1],
    })],
  };
}

function ChartCanvas({ make, top, height }: any) {
  const ref = useRef<HTMLCanvasElement | null>(null);
  useEffect(() => {
    const chart = new Chart(ref.current as HTMLCanvasElement, make());
    return () => chart.destroy();
  }, [make]);
  return (
    <canvas
      ref={ref}
      width={641}
      height={height}
      style={{ position: "absolute", left: 0, top, width: 641, height, display: "block" }}
    />
  );
}

export default function App() {
  useEffect(() => {
    document.body.style.margin = "0";
    document.body.style.background = "#fff";
  }, []);
  const labelStyle: any = {
    position: "absolute", left: 8, fontFamily: SERIF, fontSize: 30,
    lineHeight: "30px", color: "#000",
  };
  return (
    <div style={{ position: "absolute", left: 0, top: 0, width: 641, height: 1012, overflow: "hidden", background: "#fff" }}>
      <ChartCanvas make={configA} top={0} height={515} />
      <ChartCanvas make={configB} top={515} height={505} />
      <div style={{ ...labelStyle, top: 12 }}>(a)</div>
      <div style={{ ...labelStyle, top: 537 }}>(b)</div>
    </div>
  );
}
